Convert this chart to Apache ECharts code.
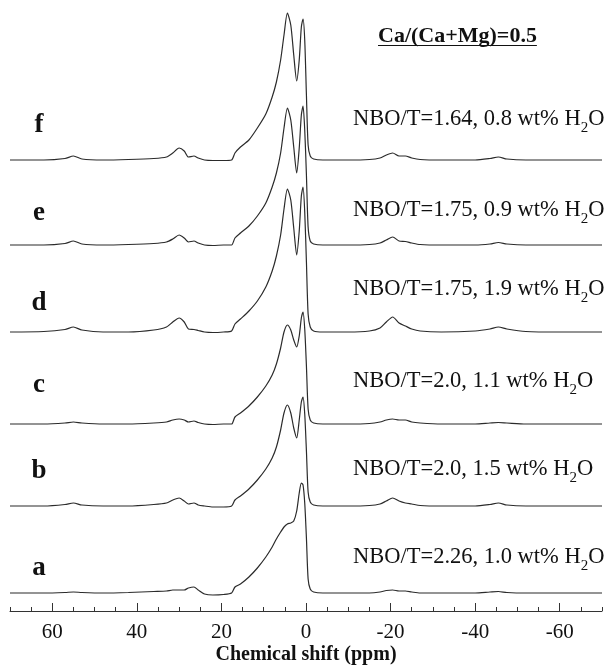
<!DOCTYPE html>
<html><head><meta charset="utf-8">
<script src="https://cdn.jsdelivr.net/npm/echarts@6/dist/echarts.min.js"></script>
<style>html,body{margin:0;padding:0;background:#fff}#c{width:608px;height:671px}</style>
</head><body><div id="c"></div>
<script>
// chemical shift grid (ppm) shared by all spectra
const ppm = [70, 62, 57, 55, 53, 48, 42, 36, 33, 31.5,
  30, 28.8, 27.8, 26.5, 25.5, 24, 22, 19.5, 17.6, 16.8,
  15.5, 13.5, 11.5, 9.5, 8, 7, 6, 5.2, 4.4, 3.6,
  2.9, 2.2, 1.6, 1.1, 0.7, 0.3, -0.1, -0.5, -1, -1.8,
  -4, -10, -15, -17.5, -19, -20.5, -22, -23.5, -25, -27,
  -32, -40, -43.5, -45.5, -47.5, -52, -60, -70];

// intensities (arbitrary units)
const specA = [0, 0, 0.5, 1, 0.5, 0, 0.5, 1.5, 2, 3,
  3, 3, 5, 6, 3, -1, -2, -1.5, 0, 6,
  9, 16, 25, 36, 46, 54, 61, 66, 69, 70,
  72, 82, 100, 110, 108, 90, 55, 14, 4, 1,
  0, 0, 0, 1, 2.5, 3, 2, 2, 1, 0,
  0, 0, 1, 1.5, 0.5, 0, 0, 0];
const specB = [0, 0, 1.5, 3, 1, 0, 0, 1.5, 3, 6,
  8, 5, 2, 3, 1, 0, -1, -1, 0, 6,
  10, 17, 26, 37, 48, 59, 76, 93, 101, 93,
  78, 68, 86, 104, 109, 92, 55, 14, 4, 1,
  0, 0, 0.5, 2, 5, 8, 5, 3, 2, 0.5,
  0, 0, 1.5, 3, 1, 0, 0, 0];
const specC = [0, 0, 1, 2, 1, 0, 0, 1, 2, 4,
  5, 4, 2, 3, 1.5, 0, -0.5, 0, 0, 7,
  11, 18, 27, 38, 49, 60, 76, 92, 99, 94,
  84, 77, 88, 106, 112, 95, 58, 15, 4, 1,
  0, 0, 0.5, 2, 4, 5, 4, 4, 2, 1,
  0, 0, 1, 1.5, 1, 0, 0, 0];
const specD = [0, 0.5, 2.5, 5, 2, 0, 0, 2, 5, 10,
  14, 10, 3, 2.5, 1.5, 0, -0.5, 0, 1, 8,
  13, 21, 31, 45, 61, 76, 97, 123, 143, 132,
  104, 77, 101, 136, 145, 120, 70, 18, 5, 1,
  0, 0, 1, 4, 10, 15, 9, 6, 3, 1,
  0, 1, 3, 5, 3, 0.5, 0, 0];
const specE = [0, 0, 1.5, 4, 1, 0, 0.5, 1.5, 3, 6,
  10, 7, 3, 4, 2, 0, -0.5, 0, 0, 7,
  12, 19, 29, 42, 58, 72, 92, 117, 137, 125,
  98, 72, 97, 130, 139, 115, 70, 18, 4, 1,
  0, 0, 0.5, 2, 5, 8, 4, 3.5, 2, 0.5,
  0, 0, 1, 2.5, 1, 0, 0, 0];
const specF = [0, 0, 1.5, 4, 1, 0, 0.5, 1.5, 3, 7,
  12, 9, 3, 4, 2, 0, -0.5, -0.5, 0, 7,
  13, 20, 32, 46, 63, 78, 100, 125, 147, 135,
  105, 79, 100, 133, 141, 120, 65, 15, 4, 1,
  0, 0, 0.5, 2, 5, 7, 4, 4, 2, 0.5,
  0, 0, 1.5, 3, 1, 0, 0, 0];

const spectra = [specA, specB, specC, specD, specE, specF];
const traceLetters = ['a', 'b', 'c', 'd', 'e', 'f'];
const nboValues = ['2.26', '2.0', '2.0', '1.75', '1.75', '1.64'];
const waterValues = ['1.0', '1.5', '1.1', '1.9', '0.9', '0.8'];
const titleText = 'Ca/(Ca+Mg)=0.5';
const axisTitle = 'Chemical shift (ppm)';
const majorTicks = [-60, -40, -20, 0, 20, 40, 60];
const minorTicks = [-70, -65, -55, -50, -45, -35, -30, -25, -15, -10, -5, 5, 10, 15, 25, 30, 35, 45, 50, 55, 65, 70];

// layout (pixels)
const traceOffsets = [18, 105, 187, 279, 366, 451];
const letterY = [568, 471, 385, 303, 213, 125];
const annotY = [557, 469, 381, 289, 210, 119];
const annotX = 353;

const serif = "'Liberation Serif', 'Times New Roman', serif";
const mctx = document.createElement('canvas').getContext('2d');
function tw(t, font) { mctx.font = font; return mctx.measureText(t).width; }

const chart = echarts.init(document.getElementById('c'), null, { renderer: 'canvas' });

const series = spectra.map((s, i) => ({
  type: 'line',
  xAxisIndex: 0,
  yAxisIndex: 0,
  showSymbol: false,
  smooth: 0.25,
  silent: true,
  lineStyle: { color: '#2b2b2b', width: 1.2 },
  data: ppm.map((p, k) => [p, traceOffsets[i] + s[k]])
}));

const graphic = [];
traceLetters.forEach((l, i) => {
  graphic.push({ type: 'text', x: 39, y: letterY[i], style: {
    text: l, font: "bold 27px " + serif, fill: '#111', align: 'center', verticalAlign: 'middle' } });
  const pre = 'NBO/T=' + nboValues[i] + ', ' + waterValues[i] + ' wt% H';
  const f1 = "22.5px " + serif, f2 = "15px " + serif;
  const w1 = tw(pre, f1), w2 = tw('2', f2);
  graphic.push({ type: 'text', x: annotX, y: annotY[i], style: { text: pre, font: f1, fill: '#111', align: 'left', verticalAlign: 'middle' } });
  graphic.push({ type: 'text', x: annotX + w1, y: annotY[i] + 9, style: { text: '2', font: f2, fill: '#111', align: 'left', verticalAlign: 'middle' } });
  graphic.push({ type: 'text', x: annotX + w1 + w2, y: annotY[i], style: { text: 'O', font: f1, fill: '#111', align: 'left', verticalAlign: 'middle' } });
});
const tf = "bold 22px " + serif;
const tW = tw(titleText, tf);
graphic.push({ type: 'text', x: 378, y: 36, style: { text: titleText, font: tf, fill: '#111', align: 'left', verticalAlign: 'middle' } });
graphic.push({ type: 'line', shape: { x1: 378, y1: 45.5, x2: 378 + tW, y2: 45.5 }, style: { stroke: '#111', lineWidth: 1.2 } });
graphic.push({ type: 'text', x: 306, y: 655, style: { text: axisTitle, font: "bold 20px " + serif, fill: '#111', align: 'center', verticalAlign: 'middle' } });

chart.setOption({
  animation: false,
  backgroundColor: '#fff',
  grid: { left: 10, right: 6, top: 0, bottom: 60 },
  xAxis: [{
    type: 'value', min: -70, max: 70, inverse: true, position: 'bottom',
    axisLine: { show: true, lineStyle: { color: '#333', width: 1 } },
    axisTick: { show: true, inside: true, length: 8, customValues: majorTicks, lineStyle: { color: '#333', width: 1 } },
    axisLabel: { show: true, customValues: majorTicks, fontFamily: serif, fontSize: 21, color: '#111', margin: 11 },
    splitLine: { show: false }
  }, {
    type: 'value', min: -70, max: 70, inverse: true, position: 'bottom',
    axisLine: { show: false },
    axisTick: { show: true, inside: true, length: 4, customValues: minorTicks, lineStyle: { color: '#333', width: 1 } },
    axisLabel: { show: false },
    splitLine: { show: false }
  }],
  yAxis: { type: 'value', min: 0, max: 611, show: false },
  series: series,
  graphic: graphic
});
</script>
</body></html>
